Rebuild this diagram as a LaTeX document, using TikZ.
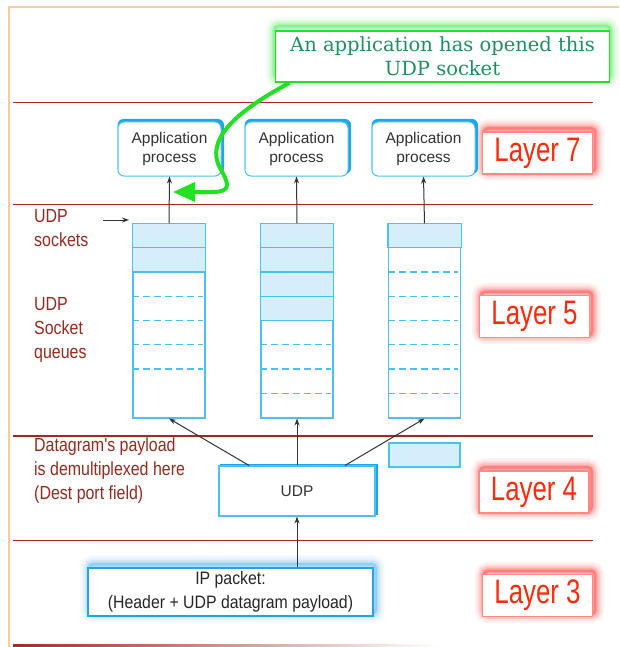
\documentclass[tikz,border=0pt]{standalone}
\usepackage{fontspec}
\setmainfont{Liberation Sans}
\newfontfamily\layerfont[FakeStretch=0.76]{Liberation Sans}
\newfontfamily\labfont[FakeStretch=0.84]{Liberation Sans}
\newfontfamily\ipfont[FakeStretch=0.88]{Liberation Sans}
\newfontfamily\notefont{DejaVu Serif}
\usetikzlibrary{arrows.meta,calc,backgrounds}
\definecolor{sepred}{HTML}{A32A1E}
\definecolor{frameorange}{HTML}{FBCB9B}
\definecolor{qblue}{HTML}{4CC0EE}
\definecolor{qfill}{HTML}{D4EEFB}
\definecolor{shblue}{HTML}{1FA5E6}
\definecolor{labred}{HTML}{952A1E}
\definecolor{layred}{HTML}{FF2A0A}
\definecolor{layborder}{HTML}{FF8A80}
\definecolor{notegreen}{HTML}{1E9060}
\definecolor{brightgreen}{HTML}{22E022}
\definecolor{ipblue}{HTML}{2A9FEA}
\newcommand{\myglow}[4]{%
  \foreach \w/\o in {18/0.06,13/0.08,9/0.12,5/0.16,2.5/0.22}{%
    \draw[#2, line width=\w pt, opacity=\o, rounded corners=4pt]
      ($(#1.north west)+(#3,#4)$) rectangle ($(#1.south east)+(#3,#4)$);
  }}
\tikzset{
  sepline/.style={draw=sepred, line width=1.5pt},
  appbox/.style={draw=qblue, fill=white, rounded corners=6pt, minimum width=103pt,
    minimum height=54pt, inner sep=0pt, align=center, text=black!80,
    font=\fontsize{15.5}{19}\selectfont, line width=1pt},
  qbox/.style={draw=qblue, minimum width=72pt, minimum height=194pt, inner sep=0pt, line width=1.1pt},
  qcell/.style={fill=qfill, draw=qblue, line width=1.1pt},
  qdash/.style={draw=qblue, line width=1.1pt, dash pattern=on 7pt off 4pt},
  ar/.style={-{Stealth[length=7pt,width=5pt]}, draw=black!80, line width=1pt},
  layerbox/.style={draw=layborder, fill=white, line width=1.3pt, text=layred,
    font=\layerfont\fontsize{34}{38}\selectfont, minimum width=110pt, minimum height=42pt, inner sep=0pt},
  lab/.style={text=labred, font=\labfont\fontsize{19}{24}\selectfont, align=left, inner sep=0pt, anchor=west},
  notebox/.style={draw=brightgreen, fill=white, line width=1.6pt, text=notegreen, align=center,
    font=\notefont\fontsize{19.5}{24}\selectfont, minimum width=334pt, minimum height=51pt, inner sep=0pt},
  udpbox/.style={draw=qblue, fill=white, line width=1.1pt, minimum width=156pt, minimum height=50pt,
    inner sep=0pt, text=black!80, font=\fontsize{15.5}{19}\selectfont},
  ipbox/.style={draw=ipblue, fill=white, line width=1.4pt, minimum width=285pt, minimum height=48pt,
    inner sep=0pt, align=center, text=black!85, font=\ipfont\fontsize{18}{24}\selectfont},
}
\begin{document}
\begin{tikzpicture}[x=1pt,y=-1pt]
\useasboundingbox (0,0) rectangle (619,647);
% frame
\draw[frameorange, line width=2.5pt] (9,647) -- (9,7) -- (619,7);
% separators
\draw[sepline] (13,102.5) -- (593,102.5);
\draw[sepline] (13,204.5) -- (593,204.5);
\draw[sepline] (13,436) -- (593,436);
\draw[sepline] (13,540.5) -- (593,540.5);
\shade[left color=sepred, right color=white] (13,644.8) rectangle (440,646.6);

% callout
\node[notebox] (note) at (442.5,56.5) {An application has opened this\\UDP socket};

% application boxes
\node[appbox] (a1) at (169.5,149) {Application\\process};
\node[appbox] (a2) at (296.5,149) {Application\\process};
\node[appbox] (a3) at (423.5,149) {Application\\process};

% layer boxes
\node[layerbox] (L7) at (537.5,153) {Layer 7};
\node[layerbox] (L5) at (534.5,316.5) {Layer 5};
\node[layerbox] (L4) at (534,492) {Layer 4};
\node[layerbox] (L3) at (537.5,595.5) {Layer 3};

% queues
\node[qbox] (q1) at (169,321) {};
\node[qbox] (q2) at (297,321) {};
\node[qbox] (q3) at (424.5,321) {};
\foreach \q/\nf in {q1/2,q2/4,q3/1}{
  \foreach \k in {1,...,\nf}{
    \filldraw[qcell] ($(\q.north west)+(0,{24.25*(\k-1)})$) rectangle ($(\q.north east)+(0,{24.25*\k})$);
  }
}
\foreach \k in {3,4,5,6}{\draw[qdash] ($(q1.north west)+(0,{24.25*\k})$) -- ($(q1.north east)+(-3,{24.25*\k})$);}
\foreach \k in {5,6,7}{\draw[qdash] ($(q2.north west)+(0,{24.25*\k})$) -- ($(q2.north east)+(-3,{24.25*\k})$);}
\foreach \k in {2,3,4,5,6,7}{\draw[qdash] ($(q3.north west)+(0,{24.25*\k})$) -- ($(q3.north east)+(-3,{24.25*\k})$);}

% small datagram block
\node[draw=qblue, fill=qfill, line width=1.1pt, minimum width=71pt, minimum height=24pt, inner sep=0pt] (pkt) at (424.5,455) {};

% UDP and IP boxes
\node[udpbox] (udp) at (297,491) {UDP};
\node[ipbox] (ip) at (230.5,592) {IP packet:\\(Header + UDP datagram payload)};

% left labels
\node[lab] (lsock) at (34,228) {UDP\\sockets};
\node[lab] (lqueue) at (34,330) {UDP\\Socket\\queues};
\node[lab] (ldemux) at (34,471) {Datagram's payload\\is demultiplexed here\\(Dest port field)};

% arrows
\draw[ar] (q1.north) -- (a1.south);
\draw[ar] (q2.north) -- (a2.south);
\draw[ar] (q3.north) -- (a3.south);
\coordinate (u1) at ($(udp.north)+(-48,0)$);
\coordinate (u3) at ($(udp.north)+(48,0)$);
\draw[ar] (u1) -- (q1.south);
\draw[ar] (udp.north) -- (q2.south);
\draw[ar] (u3) -- (q3.south);
\draw[ar] (ip.north -| udp.south) -- (udp.south);
\coordinate (sa) at (103,220);
\coordinate (sb) at (129,220);
\draw[ar] (sa) -- (sb);

% green arrow
\coordinate (gs) at ($(note.south west)+(15,0)$);
\coordinate (gtip) at (173,192);
\draw[brightgreen, line width=4pt, -{Triangle[length=22pt,width=19pt]}]
  (gs) .. controls (235,112) and (205,140) .. (220,168)
  .. controls (229,184) and (232,192) .. (212,192) -- (gtip);

% glows and shadows
\begin{scope}[on background layer]
  \myglow{note}{brightgreen}{0}{-4}
  \myglow{L7}{red}{2}{-3}
  \myglow{L5}{red}{2}{-3}
  \myglow{L4}{red}{2}{-3}
  \myglow{L3}{red}{2}{-3}
  \myglow{ip}{ipblue}{2}{-3}
  \foreach \a in {a1,a2,a3}{
    \fill[shblue, rounded corners=6pt] ($(\a.north west)+(0,-2.5)$) rectangle ($(\a.south east)+(2.5,-2.5)$);
  }
  \fill[shblue] ($(udp.north west)+(2,-1.2)$) rectangle ($(udp.south east)+(2,-1.2)$);
\end{scope}
\end{tikzpicture}
\end{document}
